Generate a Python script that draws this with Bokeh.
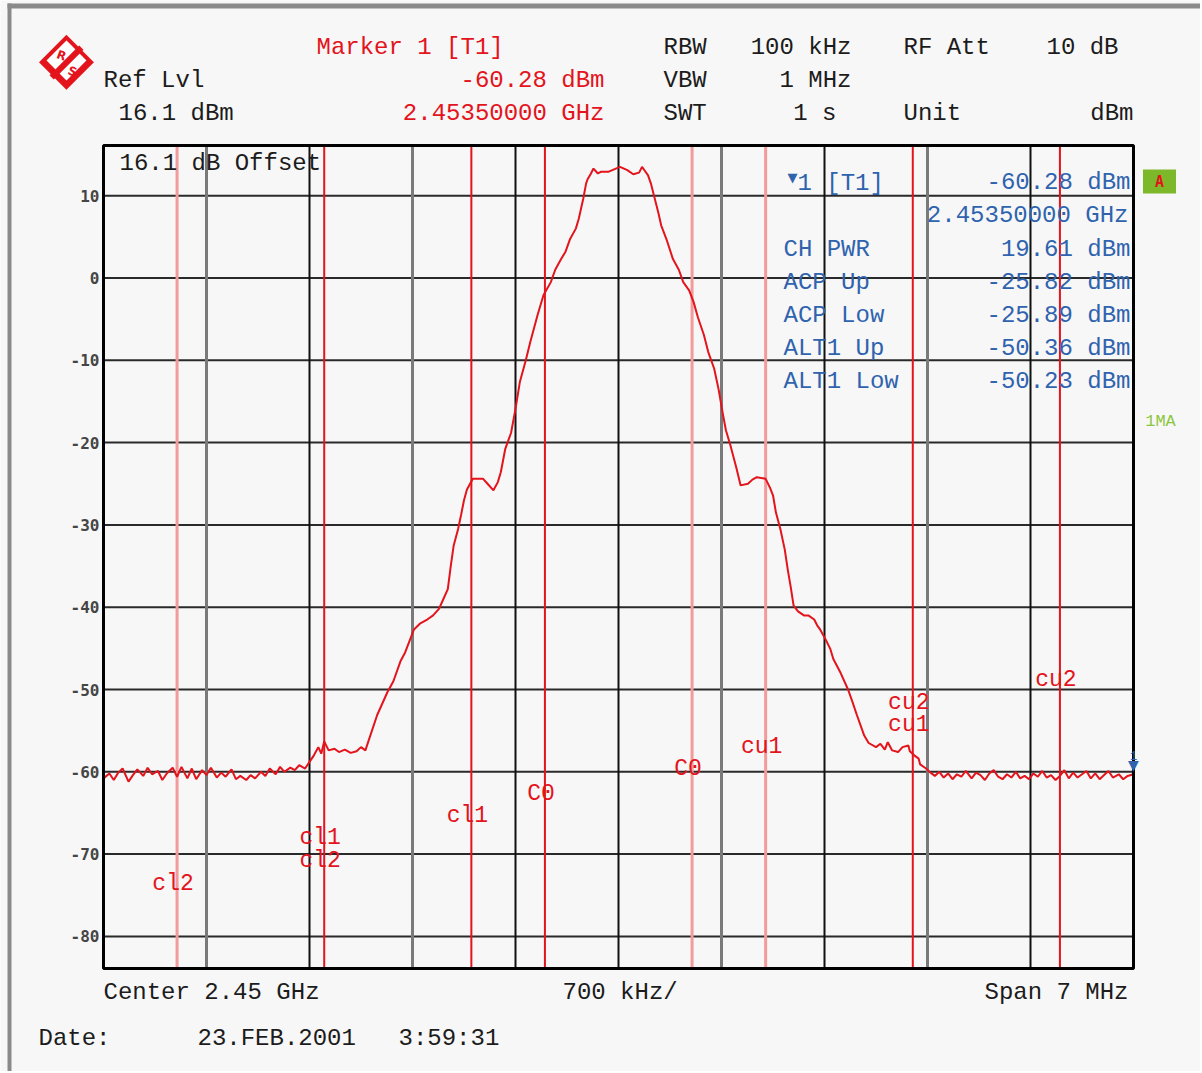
from bokeh.plotting import figure
from bokeh.models import Label, Range1d
from bokeh.core.properties import value
from bokeh.embed import file_html
from bokeh.resources import INLINE

# ---------------- data ----------------
center_ghz = 2.45
span_mhz = 7.0
ref_level_dbm = 16.1
range_db = 100.0

# trace: frequency offset from center (MHz) and level (dBm)
freq_offset_mhz = [
    -3.50, -3.46, -3.43, -3.40, -3.37, -3.33, -3.30, -3.27, -3.23, -3.20,
    -3.17, -3.13, -3.10, -3.07, -3.03, -3.00, -2.97, -2.93, -2.90, -2.87,
    -2.83, -2.80, -2.77, -2.73, -2.70, -2.67, -2.63, -2.60, -2.57, -2.53,
    -2.50, -2.47, -2.43, -2.40, -2.37, -2.33, -2.30, -2.27, -2.23, -2.20,
    -2.17, -2.13, -2.10, -2.07, -2.04, -2.02, -2.00, -1.97, -1.93, -1.90,
    -1.86, -1.82, -1.78, -1.75, -1.72, -1.70, -1.64, -1.57, -1.53, -1.48,
    -1.45, -1.39, -1.35, -1.30, -1.26, -1.22, -1.19, -1.16, -1.14, -1.12,
    -1.09, -1.07, -1.05, -1.03, -0.99, -0.92, -0.89, -0.85, -0.82, -0.80,
    -0.77, -0.73, -0.70, -0.67, -0.63, -0.60, -0.55, -0.51, -0.46, -0.43,
    -0.39, -0.36, -0.33, -0.29, -0.27, -0.24, -0.22, -0.21, -0.19, -0.17,
    -0.14, -0.12, -0.07, -0.03, 0.01, 0.06, 0.10, 0.14, 0.16, 0.18,
    0.20, 0.22, 0.24, 0.27, 0.29, 0.33, 0.37, 0.41, 0.44, 0.48,
    0.51, 0.54, 0.58, 0.61, 0.65, 0.68, 0.71, 0.73, 0.76, 0.80,
    0.83, 0.88, 0.91, 0.94, 1.00, 1.03, 1.05, 1.07, 1.10, 1.13,
    1.15, 1.17, 1.19, 1.22, 1.26, 1.29, 1.33, 1.35, 1.37, 1.41,
    1.44, 1.46, 1.51, 1.56, 1.59, 1.62, 1.67, 1.70, 1.75, 1.78,
    1.81, 1.83, 1.86, 1.90, 1.93, 1.97, 1.98, 2.01, 2.04, 2.05,
    2.09, 2.12, 2.15, 2.18, 2.21, 2.24, 2.27, 2.30, 2.33, 2.36,
    2.40, 2.43, 2.46, 2.49, 2.52, 2.55, 2.58, 2.61, 2.64, 2.67,
    2.70, 2.73, 2.76, 2.79, 2.82, 2.85, 2.88, 2.91, 2.94, 2.97,
    3.00, 3.03, 3.06, 3.09, 3.12, 3.15, 3.18, 3.21, 3.24, 3.27,
    3.30, 3.33, 3.36, 3.40, 3.43, 3.46, 3.50,
]
level_dbm = [
    -60.8, -60.2, -61.0, -60.1, -59.6, -61.2, -60.4, -59.7, -60.5, -59.5,
    -60.3, -59.9, -61.0, -60.2, -59.5, -60.6, -59.4, -60.8, -59.6, -60.9,
    -59.8, -60.4, -59.5, -60.7, -60.1, -60.6, -59.7, -60.9, -60.5, -61.0,
    -60.4, -60.8, -60.0, -60.5, -59.6, -60.3, -59.4, -60.0, -59.5, -59.8,
    -59.2, -59.6, -58.8, -58.0, -57.0, -57.8, -56.3, -57.4, -57.2, -57.6,
    -57.3, -57.7, -57.5, -57.0, -57.4, -56.3, -53.1, -50.3, -49.0, -46.5,
    -45.5, -42.7, -42.0, -41.5, -41.0, -40.2, -39.0, -37.8, -35.0, -32.5,
    -30.5, -28.8, -27.0, -25.7, -24.4, -24.4, -25.0, -25.8, -24.8, -23.6,
    -20.8, -18.8, -15.9, -12.6, -10.0, -7.8, -4.5, -2.1, -0.5, 1.0,
    2.3, 3.2, 4.7, 6.0, 7.2, 9.6, 11.5, 12.0, 12.6, 13.3,
    12.7, 12.9, 12.9, 13.2, 13.5, 13.1, 12.6, 12.8, 13.5, 13.0,
    12.5, 11.5, 10.1, 8.0, 6.4, 4.5, 2.3, 1.0, -0.5, -1.5,
    -2.9, -4.8, -6.9, -9.0, -11.0, -13.5, -16.6, -18.5, -20.3, -23.0,
    -25.2, -25.0, -24.5, -24.2, -24.4, -25.5, -26.4, -28.5, -30.5, -33.0,
    -35.4, -37.5, -39.8, -40.5, -41.0, -41.0, -41.5, -42.2, -42.7, -44.0,
    -45.1, -46.3, -48.0, -50.0, -51.5, -53.1, -55.6, -56.5, -57.0, -56.6,
    -57.3, -56.4, -57.4, -57.6, -57.0, -56.8, -57.5, -58.0, -58.4, -59.1,
    -59.6, -60.1, -60.5, -60.0, -60.7, -60.2, -60.9, -60.3, -60.6, -59.9,
    -60.8, -60.1, -60.4, -61.0, -60.2, -59.8, -60.6, -60.9, -60.3, -60.7,
    -60.0, -60.8, -60.5, -60.9, -60.2, -60.6, -59.9, -60.7, -60.4, -61.0,
    -60.5, -59.8, -60.8, -60.1, -60.7, -60.3, -59.9, -60.8, -60.2, -60.9,
    -60.4, -59.9, -60.7, -60.3, -60.9, -60.5, -60.3,
]

y_ticks = [10, 0, -10, -20, -30, -40, -50, -60, -70, -80]
grid_x_mhz = [-2.8, -2.1, -1.4, -0.7, 0.0, 0.7, 1.4, 2.1, 2.8]
grid_x_gray = [True, False, True, False, False, True, False, True, False]

chan_edges_mhz = [-3.0, -2.0, -1.0, -0.5, 0.5, 1.0, 2.0, 3.0]
chan_edge_faint = [True, False, False, False, True, True, False, False]
chan_label_text = ["cl2", "cl1", "cl2", "cl1", "C0", "C0", "cu1", "cu2", "cu1", "cu2"]
chan_label_x = [-3.0, -2.0, -2.0, -1.0, -0.5, 0.5, 1.0, 2.0, 2.0, 3.0]
chan_label_y = [-73.6, -68.1, -70.8, -65.4, -62.7, -59.7, -57.0, -51.6, -54.3, -48.9]

marker_freq_ghz = 2.4535
marker_level_dbm = -60.28

result_names = ["CH PWR", "ACP Up", "ACP Low", "ALT1 Up", "ALT1 Low"]
result_values = ["19.61 dBm", "-25.82 dBm", "-25.89 dBm", "-50.36 dBm", "-50.23 dBm"]

# ---------------- layout constants ----------------
W, H = 1200, 1071
FL, FR, FT, FB = 103, 1133, 145, 968  # plot-area edges in canvas pixels
XMIN, XMAX = -span_mhz / 2, span_mhz / 2
YMAX = ref_level_dbm
YMIN = ref_level_dbm - range_db


def px2x(px):
    return XMIN + (px - FL) * (XMAX - XMIN) / (FR - FL)


def py2y(py):
    return YMAX - (py - FT) * (YMAX - YMIN) / (FB - FT)


BG = "#f7f7f7"
RED = "#e3141c"
BLUE = "#2f63ae"
BLACK = "#1c1c1c"
MONO = "Liberation Mono"

p = figure(
    width=W, height=H,
    x_range=Range1d(px2x(0), px2x(W)), y_range=Range1d(py2y(H), py2y(0)),
    output_backend="svg", toolbar_location=None, min_border=0,
    background_fill_color=BG, border_fill_color=BG,
)
p.axis.visible = False
p.grid.visible = False
p.outline_line_color = None

# screenshot frame (grey bars at left/top)
p.quad(left=[px2x(7)], right=[px2x(11)], bottom=[py2y(H)], top=[py2y(3)],
       fill_color="#8a8a8a", line_color=None)
p.quad(left=[px2x(7)], right=[px2x(W)], bottom=[py2y(8)], top=[py2y(3)],
       fill_color="#8a8a8a", line_color=None)

# grid
n = len(y_ticks)
p.segment(x0=[XMIN] * n, x1=[XMAX] * n, y0=y_ticks, y1=y_ticks,
          line_color="#2a2a2a", line_width=2)
gx_gray = [x for x, g in zip(grid_x_mhz, grid_x_gray) if g]
gx_black = [x for x, g in zip(grid_x_mhz, grid_x_gray) if not g]
p.segment(x0=gx_gray, x1=gx_gray, y0=[YMIN] * len(gx_gray), y1=[YMAX] * len(gx_gray),
          line_color="#7a7a7a", line_width=3)
p.segment(x0=gx_black, x1=gx_black, y0=[YMIN] * len(gx_black), y1=[YMAX] * len(gx_black),
          line_color="#111111", line_width=2)

# channel boundary lines
ce_faint = [x for x, f in zip(chan_edges_mhz, chan_edge_faint) if f]
ce_strong = [x for x, f in zip(chan_edges_mhz, chan_edge_faint) if not f]
p.segment(x0=ce_faint, x1=ce_faint, y0=[YMIN] * len(ce_faint), y1=[YMAX] * len(ce_faint),
          line_color="#f39a9a", line_width=3)
p.segment(x0=ce_strong, x1=ce_strong, y0=[YMIN] * len(ce_strong), y1=[YMAX] * len(ce_strong),
          line_color=RED, line_width=2)

# trace
p.line(freq_offset_mhz, level_dbm, line_color=RED, line_width=2)

# plot-area frame
p.quad(left=[XMIN], right=[XMAX], bottom=[YMIN], top=[YMAX],
       fill_color=None, line_color="black", line_width=3)

# y tick labels
p.text(x=[XMIN] * n, y=y_ticks, text=[str(v) for v in y_ticks], x_offset=-4,
       text_align="right", text_baseline="middle", text_font=value("DejaVu Sans Mono"),
       text_font_size="16px", text_font_style="bold", text_color="#454545")

# channel labels
p.text(x=chan_label_x, y=chan_label_y, text=chan_label_text, x_offset=-4,
       text_align="center", text_baseline="middle", text_font=value(MONO),
       text_font_size="23px", text_color=RED)

# marker
mx = (marker_freq_ghz - center_ghz) * 1000
p.add_layout(Label(x=mx, y=marker_level_dbm, y_offset=1, text="\u25BC", text_color=BLUE,
                   text_font="DejaVu Sans", text_font_size="14px",
                   text_align="center", text_baseline="bottom"))
p.add_layout(Label(x=mx, y=marker_level_dbm, y_offset=14, text="1", text_color=BLUE,
                   text_font=MONO, text_font_size="12px",
                   text_align="center", text_baseline="bottom"))


def txt(px, py, s, color=BLACK, size="24px", align="left", font=MONO, style="normal", angle=0):
    p.add_layout(Label(x=px2x(px), y=py2y(py), text=s, text_color=color,
                       text_font=font, text_font_size=size, text_font_style=style,
                       text_align=align, text_baseline="middle",
                       angle=angle, angle_units="deg"))


# header
txt(103, 80, "Ref Lvl")
txt(118, 113, "%.1f dBm" % ref_level_dbm)
txt(316, 47, "Marker 1 [T1]", RED)
txt(604, 80, "%.2f dBm" % marker_level_dbm, RED, align="right")
txt(604, 113, "%.8f GHz" % marker_freq_ghz, RED, align="right")
txt(663, 47, "RBW")
txt(851, 47, "100 kHz", align="right")
txt(903, 47, "RF Att")
txt(1118, 47, "10 dB", align="right")
txt(663, 80, "VBW")
txt(851, 80, "1 MHz", align="right")
txt(663, 113, "SWT")
txt(836, 113, "1 s", align="right")
txt(903, 113, "Unit")
txt(1133, 113, "dBm", align="right")

# inside frame
txt(119, 163, "16.1 dB Offset")

# marker/result block
txt(792, 177, "\u25BC", BLUE, size="13px", align="center", font="DejaVu Sans")
txt(797, 183, "1 [T1]", BLUE)
txt(1130, 182, "%.2f dBm" % marker_level_dbm, BLUE, align="right")
txt(1128, 215, "%.8f GHz" % marker_freq_ghz, BLUE, align="right")
for i, (nm, v) in enumerate(zip(result_names, result_values)):
    yy = 249 + i * 33
    txt(783, yy, nm, BLUE)
    txt(1130, yy, v, BLUE, align="right")

# green "A" and "1MA"
p.add_layout(Label(x=px2x(1159), y=py2y(181), text="A", text_color=RED,
                   text_font="DejaVu Sans Mono", text_font_size="15px", text_font_style="bold",
                   text_align="center", text_baseline="middle",
                   background_fill_color="#7cb82a",
                   padding=dict(left=12, right=12, top=3, bottom=3)))
txt(1160, 421, "1MA", "#8cc63f", size="17px", align="center")

# footer
txt(103, 992, "Center %.2f GHz" % center_ghz)
txt(562, 992, "700 kHz/")
txt(1128, 992, "Span %g MHz" % span_mhz, align="right")
txt(38, 1038, "Date:")
txt(197, 1038, "23.FEB.2001")
txt(398, 1038, "3:59:31")

# logo (R&S diamond)
txt(66, 55, "\u25C6", RED, size="72px", align="center", font="DejaVu Sans")
txt(66, 55, "\u25C6", "#ffffff", size="52px", align="center", font="DejaVu Sans")
p.add_layout(Label(x=px2x(66), y=py2y(62), text="\u2003" * 7, text_font_size="6px",
                   text_align="center", text_baseline="middle",
                   background_fill_color=RED, padding=0,
                   angle=45, angle_units="deg"))
txt(61, 55, "R", RED, size="12px", align="center", font="DejaVu Sans", style="bold", angle=-20)
txt(72, 71, "S", RED, size="12px", align="center", font="DejaVu Sans", style="bold", angle=-20)

open("out.html", "w").write(file_html(p, INLINE))
